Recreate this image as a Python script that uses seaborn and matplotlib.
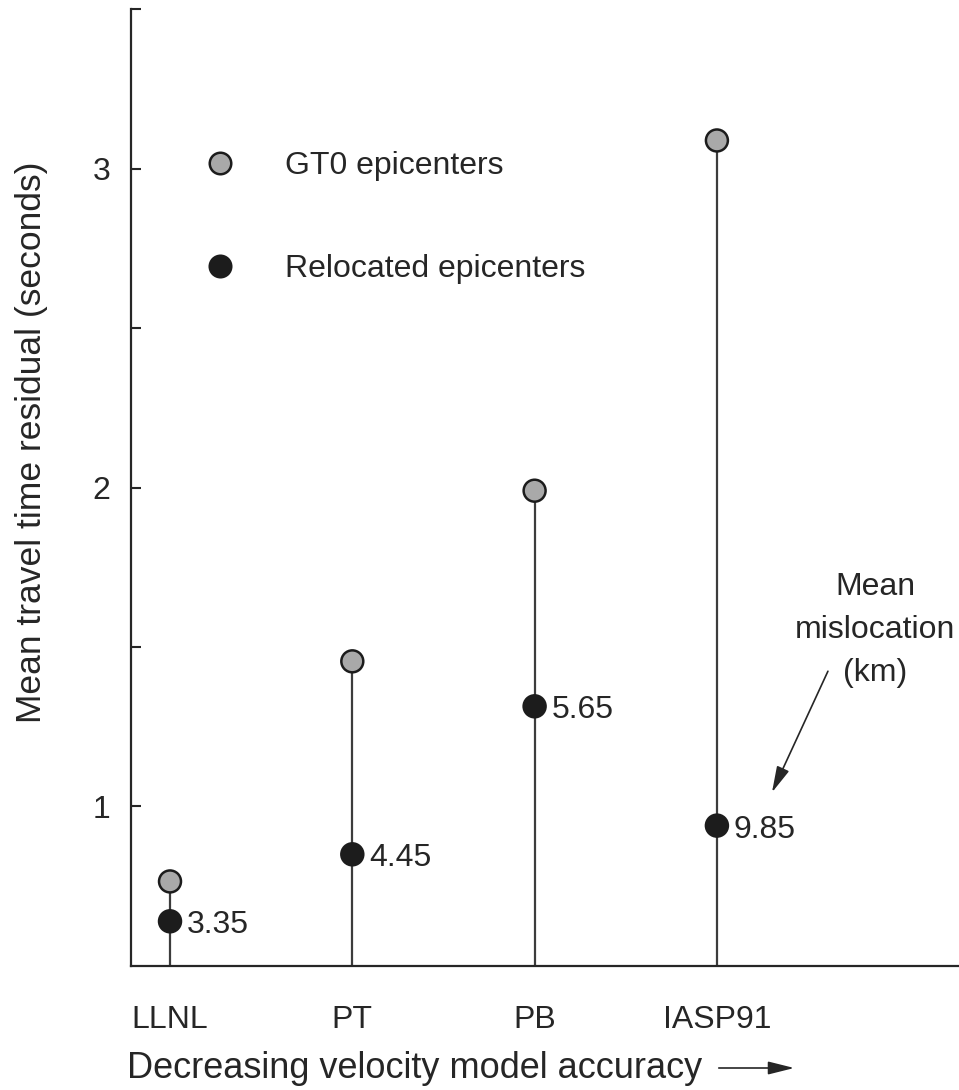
import pandas as pd
import matplotlib.pyplot as plt
import seaborn as sns
from matplotlib.lines import Line2D
from matplotlib.patches import FancyArrowPatch

# Values
models = ['LLNL', 'PT', 'PB', 'IASP91']
gt0_residual = [0.765, 1.455, 1.99, 3.088]
relocated_residual = [0.64, 0.85, 1.314, 0.94]
mislocation_km = ['3.35', '4.45', '5.65', '9.85']

pos = list(range(len(models)))
df = pd.DataFrame({
    'pos': pos * 2,
    'residual': gt0_residual + relocated_residual,
    'series': ['GT0 epicenters'] * 4 + ['Relocated epicenters'] * 4,
})

sns.set_style('white')
plt.rcParams['font.family'] = ['Liberation Sans', 'DejaVu Sans']

fig = plt.figure(figsize=(9.59, 10.9), dpi=100)
ax = fig.add_axes([0.1366, 0.1138, 0.8634, 0.8779])

ink = '#262626'
fs = 23

# stems from the axis up to the GT0 value
ax.vlines(pos, 0.5, gt0_residual, color='#3c3c3c', lw=1.6, zorder=1)

palette = {'GT0 epicenters': '#a9a9a9', 'Relocated epicenters': '#1c1c1c'}
sns.scatterplot(data=df, x='pos', y='residual', hue='series', palette=palette,
                s=250, edgecolor='#1c1c1c', linewidth=1.8, zorder=3, ax=ax,
                legend=False)

# mislocation labels next to the relocated points
for x, y, lab in zip(pos, relocated_residual, mislocation_km):
    ax.annotate(lab, (x, y), xytext=(12, -3), textcoords='offset points',
                ha='left', va='center', fontsize=fs, color=ink)

ax.set_xlim(-0.214, 4.328)
ax.set_ylim(0.5, 3.5)
ax.set_yticks([1, 2, 3])
ax.set_yticks([1.5, 2.5, 3.5], minor=True)
ax.set_yticklabels(['1', '2', '3'], fontsize=fs, color=ink)
ax.tick_params(axis='y', which='both', direction='in', length=7, width=1.5,
               color=ink, left=True, pad=15)
ax.set_xticks(pos)
ax.set_xticklabels(models, fontsize=fs, color=ink)
ax.tick_params(axis='x', length=0, pad=28)

for side in ['top', 'right']:
    ax.spines[side].set_visible(False)
for side in ['left', 'bottom']:
    ax.spines[side].set_color(ink)
    ax.spines[side].set_linewidth(1.6)

ax.set_xlabel('')
ax.set_ylabel('Mean travel time residual (seconds)', fontsize=25.5, color=ink)
ax.yaxis.set_label_coords(-0.100, 0.547)

fig.text(127 / 959, 1 - 1068 / 1090, 'Decreasing velocity model accuracy',
         fontsize=26, color=ink, ha='left', va='center')
fig.add_artist(FancyArrowPatch(
    (716 / 959, 1 - 1068 / 1090), (797 / 959, 1 - 1068 / 1090),
    transform=fig.transFigure, arrowstyle='-|>,head_length=1.0,head_width=0.25',
    mutation_scale=16, color=ink, lw=1.2))

# legend
handles = [Line2D([], [], ls='', marker='o', markersize=15.5,
                  markerfacecolor=palette[k], markeredgecolor='#1c1c1c',
                  markeredgewidth=1.8) for k in palette]
ax.legend(handles, list(palette), loc='upper left', frameon=False,
          bbox_to_anchor=(0.053, 0.882), fontsize=fs, labelspacing=2.29,
          handlelength=1.0, handletextpad=1.54, labelcolor=ink)

# annotation
ax.text(3.87, 1.553, 'Mean\nmislocation\n(km)', ha='center', va='center',
        fontsize=fs, color=ink, linespacing=1.55)
ax.annotate('', xy=(3.302, 1.044), xytext=(3.609, 1.424),
            arrowprops=dict(arrowstyle='-|>,head_length=1.0,head_width=0.25',
                            mutation_scale=16, color=ink, lw=1.2,
                            shrinkA=0, shrinkB=0))

fig.savefig('out.png', dpi=100)
